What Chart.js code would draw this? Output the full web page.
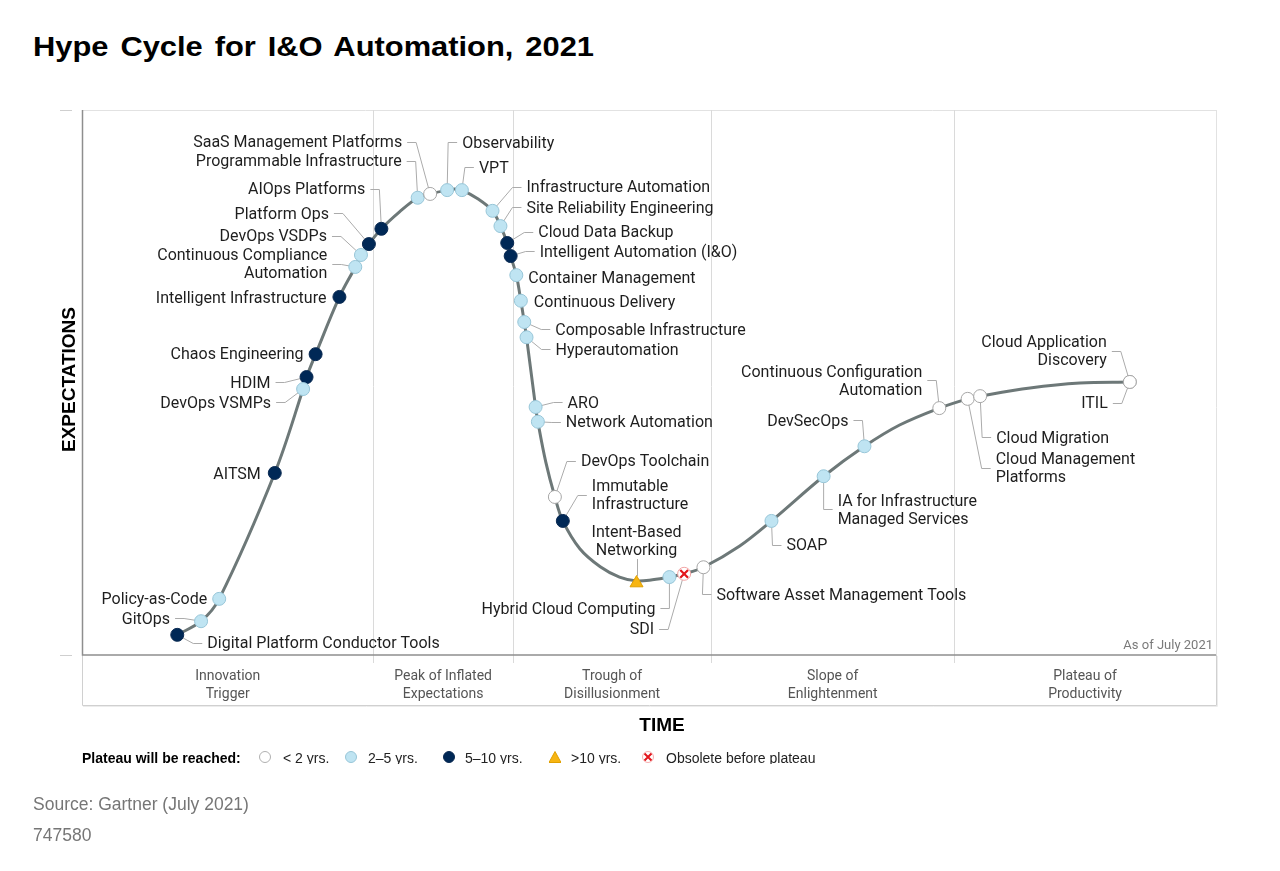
<!DOCTYPE html>
<html>
<head>
<meta charset="utf-8">
<script src="https://cdn.jsdelivr.net/npm/chart.js@4/dist/chart.umd.min.js"></script>
<style>
  html,body{margin:0;padding:0;background:#fff;}
  body{width:1280px;height:871px;overflow:hidden;position:relative;font-family:"Liberation Sans",Arial,sans-serif;}
  #c{position:absolute;left:0;top:0;}
  #title{position:absolute;left:33px;top:29px;font-size:28px;line-height:36px;font-weight:bold;color:#000;white-space:pre;transform-origin:0 0;word-spacing:3px;}
  #legend{position:absolute;left:0;top:750px;width:1280px;height:14px;overflow:hidden;font-size:14px;line-height:16px;color:#222;}
  #legend span{position:absolute;top:0;white-space:pre;}
  #legend .head{font-weight:bold;color:#000;}
  #legend svg{position:absolute;top:1px;}
  .src{position:absolute;left:33px;font-size:17.5px;line-height:20px;color:#767676;white-space:pre;}
</style>
</head>
<body>
<div id="title">Hype Cycle for I&amp;O Automation, 2021</div>
<canvas id="c" width="1280" height="871"></canvas>
<div id="legend"></div>
<div class="src" style="top:794px">Source: Gartner (July 2021)</div>
<div class="src" style="top:825px">747580</div>
<script>
// ---------------- DATA ----------------
const names = [
  'Digital Platform Conductor Tools','GitOps','Policy-as-Code','AITSM','DevOps VSMPs','HDIM',
  'Chaos Engineering','Intelligent Infrastructure','Continuous Compliance\nAutomation','DevOps VSDPs',
  'Platform Ops','AIOps Platforms','Programmable Infrastructure','SaaS Management Platforms',
  'Observability','VPT','Infrastructure Automation','Site Reliability Engineering','Cloud Data Backup',
  'Intelligent Automation (I&O)','Container Management','Continuous Delivery','Composable Infrastructure',
  'Hyperautomation','ARO','Network Automation','DevOps Toolchain','Immutable\nInfrastructure',
  'Intent-Based\nNetworking','Hybrid Cloud Computing','SDI','Software Asset Management Tools','SOAP',
  'IA for Infrastructure\nManaged Services','DevSecOps','Continuous Configuration\nAutomation',
  'Cloud Management\nPlatforms','Cloud Migration','Cloud Application\nDiscovery','ITIL'
];
const xs = [8.4,10.5,12.1,17.0,19.5,19.8,20.6,22.7,24.1,24.6,25.3,26.4,29.6,30.7,32.2,33.5,36.2,36.9,37.5,37.8,
            38.3,38.7,39.0,39.2,40.0,40.2,41.7,42.4,48.9,51.8,53.1,54.8,60.8,65.4,69.0,75.6,78.1,79.2,92.4,92.4];
const ys = [3.7,6.2,10.3,33.4,48.8,51.0,55.2,65.7,71.2,73.4,75.4,78.2,83.9,84.6,85.3,85.3,81.5,78.7,75.6,73.2,
            69.7,65.0,61.1,58.3,45.5,42.8,29.0,24.6,13.2,14.3,14.9,16.1,24.6,32.8,38.3,45.3,47.0,47.5,50.1,50.1];
const status = ['5to10','2to5','2to5','5to10','2to5','5to10','5to10','5to10','2to5','2to5',
                '5to10','5to10','2to5','lt2','2to5','2to5','2to5','2to5','5to10','5to10',
                '2to5','2to5','2to5','2to5','2to5','2to5','lt2','5to10','gt10','2to5',
                'obs','lt2','2to5','2to5','2to5','lt2','lt2','lt2','lt2','lt2'];

// hype curve
const curveX = [8.4,10.5,12.1,17.0,19.5,19.8,20.6,22.7,24.1,24.6,25.3,26.4,28.0,29.6,30.7,32.2,32.9,33.5,34.9,
                36.2,36.9,37.5,37.8,38.3,38.7,39.0,39.2,40.0,40.2,40.9,41.7,42.4,43.9,45.7,47.4,48.9,50.3,51.8,53.1,
                54.8,58.0,60.8,65.4,69.0,72.1,75.6,78.1,79.2,83.6,88.0,92.4];
const curveY = [3.7,6.2,10.3,33.4,48.8,51.0,55.2,65.7,71.2,73.4,75.4,78.2,81.3,83.9,84.6,85.3,85.5,85.3,83.7,
                81.5,78.7,75.6,73.2,69.7,65.0,61.1,58.3,45.5,42.8,35.4,29.0,24.6,19.5,16.2,14.3,13.6,13.8,14.3,14.9,
                16.1,20.0,24.6,32.8,38.3,42.2,45.3,47.0,47.5,49.0,49.9,50.1];

const phaseNames = [['Innovation','Trigger'],['Peak of Inflated','Expectations'],['Trough of','Disillusionment'],
                    ['Slope of','Enlightenment'],['Plateau of','Productivity']];
const phaseBounds = [25.7, 38.0, 55.5, 76.9];
const statusKeys = ['lt2','2to5','5to10','gt10','obs'];
const statusLabels = ['< 2 yrs.','2–5 yrs.','5–10 yrs.','>10 yrs.','Obsolete before plateau'];
const legendTitle = 'Plateau will be reached:';
const xTitle = 'TIME', yTitle = 'EXPECTATIONS', asOf = 'As of July 2021';

// ---------------- LAYOUT (label placement, px relative to the marker) ----------------
// [dx, dy, align, leader]
const labelPos = [
  [30,8,'l',1],[-31,-3,'r',1],[-12,0,'r',0],[-14,1,'r',0],[-32,13,'r',1],[-36,5,'r',1],
  [-12,-1,'r',0],[-13,1,'r',0],[-28,-3,'r',1],[-34,-19,'r',1],
  [-40,-31,'r',1],[-16,-40,'r',1],[-16,-37,'r',1],[-28,-52,'r',1],
  [15,-48,'l',1],[17,-23,'l',1],[34,-24,'l',1],[26,-19,'l',1],[31,-11,'l',1],
  [29,-5,'l',1],[12,2,'l',0],[13,1,'l',0],[31,7,'l',1],
  [29,12,'l',1],[32,-5,'l',1],[28,0,'l',1],[26,-36,'l',1],[29,-26,'l',1],
  [0,-43,'c',1],[-14,31,'r',1],[-30,55,'r',1],[13,27,'l',1],[15,24,'l',1],
  [14,33,'l',1],[-16,-26,'r',1],[-17,-28,'r',1],
  [28,69,'l',1],[16,41,'l',1],[-23,-31,'r',1],[-22,21,'r',1]
];

const styles = {
  lt2:   {pointStyle:'circle',   backgroundColor:'#ffffff', borderColor:'#a6a6a6', pointRadius:6.5, borderWidth:1},
  '2to5':{pointStyle:'circle',   backgroundColor:'#bfe4f2', borderColor:'#98c6d8', pointRadius:6.5, borderWidth:1},
  '5to10':{pointStyle:'circle',  backgroundColor:'#002856', borderColor:'#0a2a52', pointRadius:6.5, borderWidth:1},
  gt10:  {pointStyle:'triangle', backgroundColor:'#f7b512', borderColor:'#e0a000', pointRadius:7.5, borderWidth:1},
  obs:   {pointStyle:'circle',   backgroundColor:'#ffffff', borderColor:'#f2a3a3', pointRadius:6.5, borderWidth:1}
};

// ---------------- DATASETS ----------------
const pts = k => xs.map((x,i)=>({x, y: ys[i], s: status[i]})).filter(p=>p.s===k).map(p=>({x:p.x,y:p.y}));
const datasets = [{
  label:'curve', data: curveX.map((x,i)=>({x, y: curveY[i]})), showLine:true,
  borderColor:'#6d7878', borderWidth:3, pointRadius:0, tension:0.35, order:10
}];
statusKeys.forEach(k=>{
  const st = styles[k];
  datasets.push({label:k, data: pts(k), ...st, pointBackgroundColor:st.backgroundColor,
                 pointBorderColor:st.borderColor, pointBorderWidth:st.borderWidth, order:1});
});
datasets.push({label:'obsX', data: pts('obs'), pointStyle:'crossRot', pointRadius:5.5,
               pointBorderColor:'#e3161c', borderColor:'#e3161c', pointBorderWidth:2.2, order:0});

// ---------------- DECORATION PLUGIN ----------------
const LABEL_FONT = '16px Roboto', LH = 18, TXT_SHIFT = 1.5;
const deco = {
  id:'deco',
  beforeDatasetsDraw(chart){
    const {ctx, chartArea:a, scales:{x, y}} = chart;
    ctx.save();
    // frame
    ctx.lineWidth = 1;
    ctx.strokeStyle = '#e2e2e2';
    ctx.beginPath();
    ctx.moveTo(a.left, a.top+0.5); ctx.lineTo(a.right, a.top+0.5);
    ctx.moveTo(a.right+0.5, a.top); ctx.lineTo(a.right+0.5, a.bottom+50);
    ctx.stroke();
    // phase box
    ctx.strokeStyle = '#d0d0d0';
    ctx.beginPath();
    ctx.moveTo(a.left+0.5, a.bottom); ctx.lineTo(a.left+0.5, a.bottom+50.5);
    ctx.lineTo(a.right+0.5, a.bottom+50.5); ctx.lineTo(a.right+0.5, a.bottom);
    ctx.stroke();
    ctx.strokeStyle = '#ececec';
    ctx.beginPath();
    ctx.moveTo(a.left+1, a.bottom+51.5); ctx.lineTo(a.right+1.5, a.bottom+51.5);
    ctx.moveTo(a.right+1.5, a.bottom+1); ctx.lineTo(a.right+1.5, a.bottom+51.5);
    ctx.stroke();
    // phase boundaries
    ctx.strokeStyle = '#dadada';
    phaseBounds.forEach(b=>{
      const px = Math.round(x.getPixelForValue(b))+0.5;
      ctx.beginPath(); ctx.moveTo(px, a.top); ctx.lineTo(px, a.bottom+8); ctx.stroke();
    });
    // axes
    ctx.strokeStyle = '#8e8e8e'; ctx.lineWidth = 1.5;
    ctx.beginPath();
    ctx.moveTo(a.left+0.5, a.top); ctx.lineTo(a.left+0.5, a.bottom);
    ctx.lineTo(a.right, a.bottom);
    ctx.stroke();
    // stubs
    ctx.strokeStyle = '#cfcfcf'; ctx.lineWidth = 1;
    ctx.beginPath();
    ctx.moveTo(a.left-22, a.top+0.5); ctx.lineTo(a.left-10, a.top+0.5);
    ctx.moveTo(a.left-22, a.bottom+0.5); ctx.lineTo(a.left-10, a.bottom+0.5);
    ctx.stroke();
    // phase labels
    const edges = [x.min, ...phaseBounds, x.max];
    ctx.fillStyle = '#555'; ctx.font = '14px Roboto'; ctx.textAlign = 'center'; ctx.textBaseline = 'middle';
    phaseNames.forEach((ln,i)=>{
      const cx = (x.getPixelForValue(edges[i]) + x.getPixelForValue(edges[i+1]))/2;
      ln.forEach((t,j)=> ctx.fillText(t, cx, a.bottom + 21.5 + j*17.5));
    });
    // leader lines
    ctx.strokeStyle = '#ababab'; ctx.lineWidth = 1;
    names.forEach((n,i)=>{
      const [dx, dy, al, ld] = labelPos[i];
      if(!ld) return;
      const px = x.getPixelForValue(xs[i]), py = y.getPixelForValue(ys[i]);
      const ex = px+dx, ey = Math.round(py+dy)+0.5;
      ctx.beginPath();
      if(al==='c'){
        const nl = n.split('\n').length;
        ctx.moveTo(Math.round(px)+0.5, py-7);
        ctx.lineTo(Math.round(px)+0.5, py+dy+nl*LH/2+1);
      } else {
        const s = al==='l' ? -1 : 1;
        ctx.moveTo(px, py);
        ctx.lineTo(ex + s*14, ey);
        ctx.lineTo(ex + s*5, ey);
      }
      ctx.stroke();
    });
    ctx.restore();
  },
  afterDatasetsDraw(chart){
    const {ctx, chartArea:a, scales:{x, y}} = chart;
    ctx.save();
    ctx.font = LABEL_FONT; ctx.fillStyle = '#1e1e1e'; ctx.textBaseline = 'middle';
    names.forEach((n,i)=>{
      const [dx, dy, al] = labelPos[i];
      const px = x.getPixelForValue(xs[i]), py = y.getPixelForValue(ys[i]);
      const lines = n.split('\n');
      ctx.textAlign = al==='l' ? 'left' : (al==='r' ? 'right' : 'center');
      const mid = py + dy + TXT_SHIFT;
      lines.forEach((t,j)=> ctx.fillText(t, px+dx, mid + (j-(lines.length-1)/2)*LH));
    });
    // as of
    ctx.font = '13px Roboto'; ctx.fillStyle = '#7a7a7a'; ctx.textAlign = 'right';
    ctx.fillText(asOf, a.right-3, a.bottom-9);
    // axis titles
    ctx.fillStyle = '#000'; ctx.font = 'bold 19px "Liberation Sans", Arial, sans-serif';
    ctx.textAlign = 'center';
    ctx.fillText(xTitle, 662, a.bottom+71);
    ctx.translate(a.left-12, (a.top+a.bottom)/2 - 3);
    ctx.rotate(-Math.PI/2);
    ctx.fillText(yTitle, 0, 0);
    ctx.restore();
  }
};

new Chart(document.getElementById('c'), {
  type:'scatter',
  data:{datasets},
  options:{
    responsive:false, animation:false, events:[],
    layout:{padding:{left:82, right:64, top:110, bottom:216}},
    scales:{
      x:{type:'linear', min:0, max:100, display:false},
      y:{type:'linear', min:0, max:100, display:false}
    },
    plugins:{legend:{display:false}, tooltip:{enabled:false}, title:{display:false}}
  },
  plugins:[deco]
});

// ---------------- HTML legend ----------------
(function(){
  const lg = document.getElementById('legend');
  const head = document.createElement('span');
  head.className = 'head'; head.style.left = '82px'; head.textContent = legendTitle;
  lg.appendChild(head);
  const markerX = [259, 345, 443, 549, 642];
  const textX = [283, 368, 465, 571, 666];
  const svgs = {
    lt2:'<circle cx="6" cy="6" r="5.5" fill="#fff" stroke="#b0b0b0"/>',
    '2to5':'<circle cx="6" cy="6" r="5.5" fill="#bfe4f2" stroke="#98c6d8"/>',
    '5to10':'<circle cx="6" cy="6" r="5.5" fill="#002856" stroke="#0a2a52"/>',
    gt10:'<polygon points="6,0.5 12,11.5 0,11.5" fill="#f7b512" stroke="#e0a000"/>',
    obs:'<circle cx="6" cy="6" r="5.5" fill="#fff" stroke="#f4b0b0"/><path d="M2.5 2.5 L9.5 9.5 M9.5 2.5 L2.5 9.5" stroke="#e3161c" stroke-width="2"/>'
  };
  statusKeys.forEach((k,i)=>{
    const s = document.createElementNS('http://www.w3.org/2000/svg','svg');
    s.setAttribute('width','12'); s.setAttribute('height','12');
    s.style.left = markerX[i]+'px';
    s.innerHTML = svgs[k];
    lg.appendChild(s);
    const t = document.createElement('span');
    t.style.left = textX[i]+'px'; t.textContent = statusLabels[i];
    lg.appendChild(t);
  });
  // fit title width to reference
  const ti = document.getElementById('title');
  const w = ti.getBoundingClientRect().width;
  ti.style.transform = 'scaleX(' + (561 / w) + ')';
})();
</script>
</body>
</html>
